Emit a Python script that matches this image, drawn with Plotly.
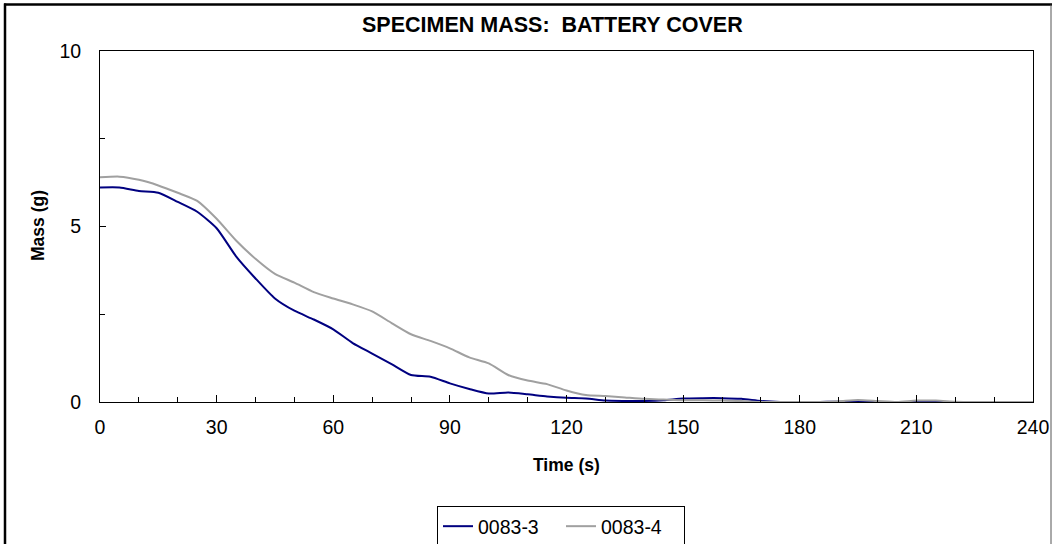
import plotly.graph_objects as go

time_s = [0, 5, 10, 15, 20, 25, 30, 35, 40, 45, 50, 55, 60, 65, 70, 75, 80, 85, 90, 95,
          100, 105, 110, 115, 120, 125, 130, 135, 140, 145, 150, 155, 160, 165, 170, 175,
          180, 185, 190, 195, 200, 205, 210, 215, 220, 225, 230, 235, 240]

mass_0083_3 = [6.11, 6.11, 6.01, 5.96, 5.70, 5.42, 4.95, 4.15, 3.52, 2.95, 2.60, 2.35, 2.07,
               1.68, 1.38, 1.08, 0.77, 0.72, 0.53, 0.37, 0.24, 0.27, 0.22, 0.16, 0.12, 0.10,
               0.04, 0.03, 0.03, 0.05, 0.10, 0.11, 0.11, 0.09, 0.03, 0.0,
               0.0, 0.0, 0.01, 0.0, 0.0, 0.0, 0.0, 0.0, 0.0, 0.0, 0.0, 0.0, 0.0]

mass_0083_4 = [6.40, 6.42, 6.33, 6.17, 5.96, 5.73, 5.22, 4.60, 4.08, 3.65, 3.40, 3.13, 2.95,
               2.78, 2.58, 2.25, 1.93, 1.74, 1.53, 1.27, 1.10, 0.77, 0.61, 0.51, 0.33, 0.20,
               0.17, 0.13, 0.09, 0.07, 0.05, 0.05, 0.04, 0.03, 0.0, 0.0,
               0.0, 0.0, 0.02, 0.06, 0.03, 0.0, 0.04, 0.04, 0.01, 0.0, 0.0, 0.0, 0.0]

series = [("0083-3", mass_0083_3, "#000080"), ("0083-4", mass_0083_4, "#A0A0A0")]

FONT = "Liberation Sans, Arial, sans-serif"

fig = go.Figure()
for name, vals, col in series:
    fig.add_trace(go.Scatter(x=time_s, y=vals, mode="lines", name=name,
                             line=dict(color=col, width=2, shape="spline", smoothing=0.6)))

W, H = 1053, 544
L, R, T, B = 100, 20, 51, 142
pw, ph = W - L - R, H - T - B

def px(x):
    return (x - L) / pw

def py(y):
    return (H - B - y) / ph

fig.update_layout(
    width=W, height=H,
    margin=dict(l=L, r=R, t=T, b=B, autoexpand=False),
    paper_bgcolor="white", plot_bgcolor="white",
    font=dict(family=FONT, color="black", size=19.5),
    showlegend=True,
    legend=dict(orientation="h", xref="container", yref="container",
                x=561 / W, y=(H - 506) / H, xanchor="center", yanchor="top",
                bordercolor="black", borderwidth=1, font=dict(size=19.5, family=FONT),
                tracegroupgap=0, entrywidth=78, entrywidthmode="pixels"),
    xaxis=dict(range=[0, 240], tickmode="linear", tick0=0, dtick=30, automargin=False,
               ticks="inside", ticklen=7, tickcolor="black", tickwidth=1,
               minor=dict(dtick=10, ticks="inside", ticklen=5, tickcolor="black"),
               showline=True, linecolor="black", linewidth=1, mirror=True,
               showgrid=False, zeroline=False, ticklabelstandoff=8,
               tickfont=dict(size=19.5, family=FONT)),
    yaxis=dict(range=[0, 10], tickmode="linear", tick0=0, dtick=5, automargin=False,
               ticks="inside", ticklen=6, tickcolor="black", tickwidth=1,
               minor=dict(dtick=2.5, ticks="inside", ticklen=5, tickcolor="black"),
               showline=True, linecolor="black", linewidth=1, mirror=True,
               showgrid=False, zeroline=False, ticklabelstandoff=14,
               tickfont=dict(size=19.5, family=FONT)),
    annotations=[
        dict(text="<b>SPECIMEN MASS:  BATTERY COVER</b>", x=px(552), y=py(25),
             xref="paper", yref="paper", showarrow=False, xanchor="center", yanchor="middle",
             font=dict(size=21.5, family=FONT)),
        dict(text="<b>Time (s)</b>", x=px(566), y=py(465),
             xref="paper", yref="paper", showarrow=False, xanchor="center", yanchor="middle",
             font=dict(size=17.5, family=FONT)),
        dict(text="<b>Mass (g)</b>", x=px(38), y=py(226), textangle=-90,
             xref="paper", yref="paper", showarrow=False, xanchor="center", yanchor="middle",
             font=dict(size=17.5, family=FONT)),
    ],
    shapes=[
        dict(type="line", xref="paper", yref="paper", x0=px(5), x1=px(5), y0=py(3.5), y1=py(560),
             line=dict(color="black", width=2.5)),
        dict(type="line", xref="paper", yref="paper", x0=px(4), x1=px(1052), y0=py(4.5), y1=py(4.5),
             line=dict(color="black", width=2.5)),
        dict(type="line", xref="paper", yref="paper", x0=px(1051), x1=px(1051), y0=py(4.5), y1=py(560),
             line=dict(color="#555555", width=1)),
    ],
)

fig.write_html("out.html")
